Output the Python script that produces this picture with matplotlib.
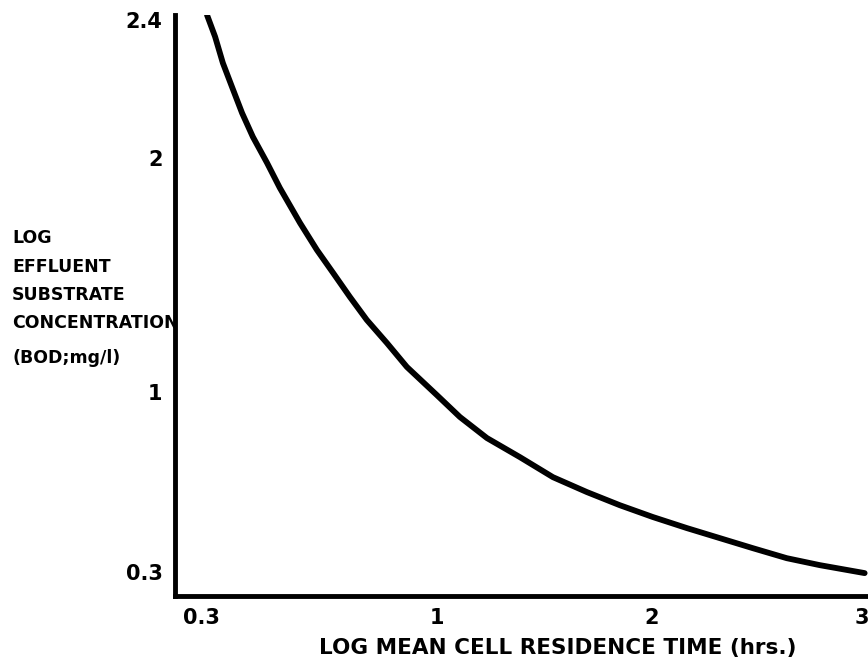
import numpy as np
import matplotlib
matplotlib.use("Agg")
import matplotlib.pyplot as plt

# Curve (data units)
residence_time = [0.318, 0.342, 0.365, 0.392, 0.422, 0.454, 0.496, 0.534,
                  0.594, 0.644, 0.692, 0.742, 0.792, 0.852, 0.911, 1.000,
                  1.107, 1.233, 1.386, 1.540, 1.698, 1.851, 2.005, 2.167,
                  2.324, 2.481, 2.643, 2.800, 3.014]
substrate_conc = [2.414, 2.351, 2.275, 2.206, 2.130, 2.061, 1.979, 1.872,
                  1.722, 1.607, 1.509, 1.406, 1.308, 1.209, 1.107, 0.988,
                  0.903, 0.821, 0.747, 0.669, 0.611, 0.560, 0.514, 0.471,
                  0.432, 0.393, 0.354, 0.327, 0.296]

x_ticks = [0.3, 1, 2, 3]
x_tick_labels = ["0.3", "1", "2", "3"]
y_ticks = [0.3, 1, 2, 2.4]
y_tick_labels = ["0.3", "1", "2", "2.4"]

# the hand-drawn axes are not evenly spaced; where each tick sits (pixels)
x_tick_px = [201, 437, 652, 862]
y_tick_px = [90, 270, 504, 642]

y_label_lines = ["LOG", "EFFLUENT", "SUBSTRATE", "CONCENTRATION", "(BOD;mg/l)"]
y_label_rows = [238, 267, 295, 323, 358]


def make_scale(vals, px):
    vals = np.asarray(vals, float)
    px = np.asarray(px, float)

    def fwd(v):
        v = np.asarray(v, float)
        out = np.interp(v, vals, px)
        lo = px[0] + (v - vals[0]) * (px[1] - px[0]) / (vals[1] - vals[0])
        hi = px[-1] + (v - vals[-1]) * (px[-1] - px[-2]) / (vals[-1] - vals[-2])
        return np.where(v < vals[0], lo, np.where(v > vals[-1], hi, out))

    def inv(p):
        p = np.asarray(p, float)
        out = np.interp(p, px, vals)
        lo = vals[0] + (p - px[0]) * (vals[1] - vals[0]) / (px[1] - px[0])
        hi = vals[-1] + (p - px[-1]) * (vals[-1] - vals[-2]) / (px[-1] - px[-2])
        return np.where(p < px[0], lo, np.where(p > px[-1], hi, out))

    return fwd, inv


fig = plt.figure(figsize=(8.68, 6.62), dpi=100)
ax = fig.add_axes([175 / 868, 66 / 662, 693 / 868, 581 / 662])

ax.set_xscale("function", functions=make_scale(x_ticks, x_tick_px))
ax.set_yscale("function", functions=make_scale(y_ticks, y_tick_px))

ax.plot(residence_time, substrate_conc, color="black", lw=4.2,
        solid_capstyle="round", solid_joinstyle="round")

ax.set_xlim(0.223, 3.03)
ax.set_ylim(0.207, 2.414)

for s in ["top", "right"]:
    ax.spines[s].set_visible(False)
for s in ["left", "bottom"]:
    ax.spines[s].set_linewidth(3.5)
    ax.spines[s].set_color("black")

ax.set_xticks(x_ticks)
ax.set_xticklabels(x_tick_labels, fontsize=15, fontweight="bold")
ax.set_yticks(y_ticks)
ax.set_yticklabels(y_tick_labels, fontsize=15, fontweight="bold")
ax.tick_params(length=0, pad=9)
ax.minorticks_off()

ax.set_xlabel("LOG MEAN CELL RESIDENCE TIME (hrs.)", fontsize=15.5,
              fontweight="bold")
ax.xaxis.set_label_coords((558 - 175) / 693, -42 / 581)

for line, row in zip(y_label_lines, y_label_rows):
    fig.text(12 / 868, 1 - row / 662, line, fontsize=12.5, fontweight="bold",
             ha="left", va="center")

fig.savefig("out.png", dpi=100)
